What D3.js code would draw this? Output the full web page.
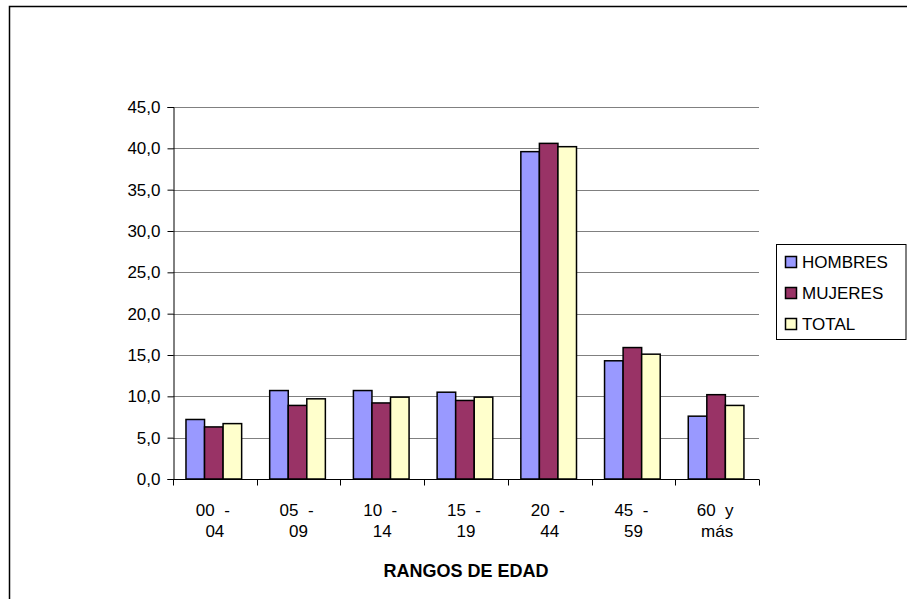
<!DOCTYPE html>
<html>
<head>
<meta charset="utf-8">
<script src="https://cdn.jsdelivr.net/npm/d3@7"></script>
<style>
  html, body { margin: 0; padding: 0; background: #fff; }
  svg { display: block; font-family: "Liberation Sans", Arial, sans-serif; }
</style>
</head>
<body>
<svg id="chart" width="907" height="599"></svg>
<script>
// Age ranges (two-line labels) and percentages per group
const categories = ["00 - 04", "05 - 09", "10 - 14", "15 - 19", "20 - 44", "45 - 59", "60 y más"];
const labelTop = ["00  -", "05  -", "10  -", "15  -", "20  -", "45  -", "60  y"];
const labelBottom = ["04", "09", "14", "19", "44", "59", "más"];
const seriesNames = ["HOMBRES", "MUJERES", "TOTAL"];
const hombres = [7.2, 10.7, 10.7, 10.5, 39.6, 14.3, 7.6];
const mujeres = [6.3, 8.9, 9.2, 9.5, 40.6, 15.9, 10.2];
const total   = [6.7, 9.7, 9.9, 9.9, 40.2, 15.1, 8.9];
const yTicks = [0, 5, 10, 15, 20, 25, 30, 35, 40, 45];
const colors = ["#9999FF", "#993366", "#FFFFCC"];

const seriesValues = [hombres, mujeres, total];
const svg = d3.select("#chart");
const FONT = 17;

// Outer chart frame (runs off the right and bottom edges)
svg.append("rect")
  .attr("x", 9.5).attr("y", 6.5)
  .attr("width", 920).attr("height", 620)
  .attr("fill", "none").attr("stroke", "#000").attr("stroke-width", 1.5);

const plot = { left: 173, right: 759, top: 107, bottom: 479 };

const x0 = d3.scaleBand().domain(categories).range([plot.left, plot.right]).padding(0);
const bw = x0.bandwidth();
const x1 = d3.scaleBand().domain(seriesNames).range([bw * 0.155, bw * 0.82]).padding(0);
const y = d3.scaleLinear().domain([0, 45]).range([plot.bottom, plot.top]);

// Horizontal gridlines
svg.append("g").selectAll("line")
  .data(yTicks.filter(d => d > 0))
  .join("line")
  .attr("x1", plot.left).attr("x2", plot.right)
  .attr("y1", d => Math.round(y(d)) + 0.5).attr("y2", d => Math.round(y(d)) + 0.5)
  .attr("stroke", "#808080").attr("stroke-width", 1);

// Bars
const groups = svg.append("g").selectAll("g")
  .data(categories)
  .join("g")
  .attr("transform", d => `translate(${x0(d)},0)`);

groups.selectAll("rect")
  .data((c, i) => seriesNames.map((s, k) => ({ s, k, v: seriesValues[k][i] })))
  .join("rect")
  .attr("x", d => x1(d.s))
  .attr("width", x1.bandwidth())
  .attr("y", d => y(d.v))
  .attr("height", d => y(0) - y(d.v))
  .attr("fill", d => colors[d.k])
  .attr("stroke", "#000")
  .attr("stroke-width", 1.5);

// Y axis
const yAxis = d3.axisLeft(y)
  .tickValues(yTicks)
  .tickSize(6)
  .tickPadding(7)
  .tickFormat(d => d3.format(".1f")(d).replace(".", ","));
const gy = svg.append("g")
  .attr("transform", `translate(${plot.left + 0.5},0)`)
  .call(yAxis);
gy.selectAll("text").attr("font-size", FONT).attr("fill", "#000")
  .attr("font-family", "'Liberation Sans', Arial, sans-serif");
gy.selectAll("line,path").attr("stroke", "#000");

// X axis with ticks on category boundaries
const gx = svg.append("g")
  .attr("transform", `translate(0,${plot.bottom + 0.5})`);
gx.append("line")
  .attr("x1", plot.left).attr("x2", plot.right)
  .attr("stroke", "#000");
gx.selectAll("line.tick")
  .data(categories.map(c => x0(c)).concat([plot.right]))
  .join("line")
  .attr("class", "tick")
  .attr("x1", d => Math.round(d) + 0.5).attr("x2", d => Math.round(d) + 0.5)
  .attr("y1", 0).attr("y2", 6)
  .attr("stroke", "#000");

const labels = svg.append("g").selectAll("text")
  .data(categories)
  .join("text")
  .attr("text-anchor", "middle")
  .attr("font-size", FONT)
  .attr("xml:space", "preserve")
  .style("white-space", "pre");
labels.append("tspan")
  .attr("x", d => x0(d) + bw / 2 - 2)
  .attr("y", 516)
  .text((d, i) => labelTop[i]);
labels.append("tspan")
  .attr("x", d => x0(d) + bw / 2)
  .attr("y", 537)
  .text((d, i) => labelBottom[i]);

// Axis title
svg.append("text")
  .attr("x", (plot.left + plot.right) / 2)
  .attr("y", 577)
  .attr("text-anchor", "middle")
  .attr("font-size", 18)
  .attr("font-weight", "bold")
  .text("RANGOS DE EDAD");

// Legend
const legend = svg.append("g");
legend.append("rect")
  .attr("x", 776.5).attr("y", 244.5)
  .attr("width", 129.5).attr("height", 95)
  .attr("fill", "#fff").attr("stroke", "#000").attr("stroke-width", 1);
const items = legend.selectAll("g.item")
  .data(seriesNames)
  .join("g")
  .attr("class", "item")
  .attr("transform", (d, i) => `translate(0,${262 + i * 31})`);
items.append("rect")
  .attr("x", 785.5).attr("y", -5.5)
  .attr("width", 11).attr("height", 11)
  .attr("fill", (d, i) => colors[i])
  .attr("stroke", "#000").attr("stroke-width", 1.5);
items.append("text")
  .attr("x", 802).attr("y", 6)
  .attr("font-size", FONT)
  .text(d => d);
</script>
</body>
</html>
